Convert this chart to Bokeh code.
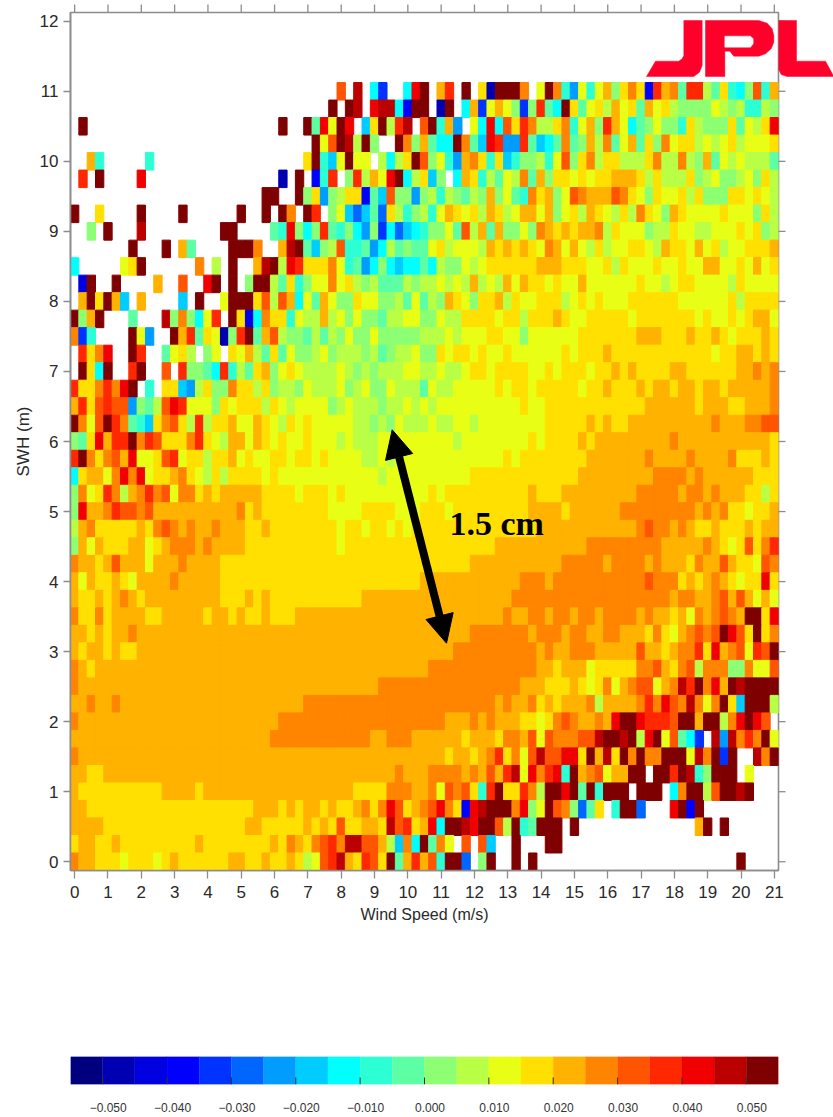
from bokeh.plotting import figure
from bokeh.layouts import column
from bokeh.models import (LinearColorMapper, ColumnDataSource, FixedTicker, LinearAxis, Range1d,
                          Arrow, NormalHead)
from bokeh.transform import transform
from bokeh.core.properties import value
from bokeh.embed import file_html
from bokeh.resources import INLINE

# one letter per colour class (A lowest ... V highest), '.' = no data
CODES = "ABCDEFGHIJKLMNOPQRSTUV"
PALETTE = ["#00007f", "#0000b2", "#0000e0", "#0000ff", "#0033ff", "#0066ff", "#009cff", "#00ccff",
           "#00ffff", "#2dffd4", "#5cffa4", "#8cff73", "#b8ff46", "#e8ff15", "#ffe000", "#ffb200",
           "#ff8400", "#ff5500", "#ff2800", "#f00000", "#bb0000", "#7f0000"]
WIND_STEP = 0.25
SWH_STEP = 0.25
WIND_TICKS = list(range(0, 22))
SWH_TICKS = list(range(0, 13))
CB_TICKS = [-0.05, -0.04, -0.03, -0.02, -0.01, 0.0, 0.01, 0.02, 0.03, 0.04, 0.05]
CB_LABELS = ["\u22120.050", "\u22120.040", "\u22120.030", "\u22120.020", "\u22120.010", "0.000",
             "0.010", "0.020", "0.030", "0.040", "0.050"]

# rows from SWH = 11 m down to 0 m, 85 wind bins each, grouped by five
ROWS = [
"..... ..... ..... ..... ..... ..... ..R.U .IE.. ITV.P S.V.O BVVVQ .NVQJ GNJNP LOQOD SPQKS SMKOJ ILRJP",
"..... ..... ..... ..... ..... ..... .V.VU .TUUI DVV.B V.IPE NPNLE LSKIV OKNOM PNOKP NOMLL LLNML MJJML",
".V... ..... ..... ..... ..... V..VK TNVT. HOVMS U.RVJ PG.NI TIROS QMMOQ JNPLS PNIKL NLLJO MLLLO KNMOT",
"..... ..... ..... ..... ..... ....V NRVUM VL..V QLPKI IVQKH TSGGS KHIKQ KLPMQ KNPKO LQNOO MNMNO MNNNO",
"..PJ. ....J ..... ..... ..... ...OV JHNVN N.MIM OVRLN JGPQO JOHJL LMJNR LOQMO OMMMO QMMQM LPKNM NMMMK",
".S.V. ...T. ..... ..... ..... B.V.D JS.LS MPNTV IMOHL .IPOJ MKNMQ KPLOO NONOO PPPOM OMMMO LMNLL MNLOM",
"..... ..... ..... ..... ...VV ..VLO GLMOO DKHRL LGLMJ MLKML PLNKJ QOPLN RQPPP RQONL ONNOM OLLLO ONONM",
"V..O. ...V. ...V. ..... V..V. VQ.VS .LNHF HKFOM JLMJN PONOM POMNP PNPLN OMPON MOMQO NLPON NNNON NNLOM",
"..L.V ...U. ..... ...VV ....K JTLIL SKJLI GLEIF HIJLL NKRMP KPLLN LQPOP OPPQM ONNNL MMONN MMNNN ONOLM",
"..... ..V.. .V.PK ....V VVQ.. PUVKH LMRJJ KGIMK LKKNO MNNNM POPOP ONQPN PNMOM NNOON MPOON PNOMN NOOOP",
"I.... .NOV. ..... Q.M.V ..PUV MTSOO OQNJK GILIH IIKIM LLNMN OOOOO OPPPO OONNO MONNN ONNON NPPNN ONPNO",
".CV.. V.... P..R. .TV.V .LVVM KOJLN NQNOM LMKKK MLMMN MNMPM NMPNP OONON NPNNN NNNON NMNOO NNNNM ONNNN",
".PVOV PH.P. ...H. V..NV VVORM RPINK PNLLO NNLLM KNKML PONLO OPMON NOOOM NONON NNOOO OOONN NNNNO MOOOO",
"VLPV. ..K.. .ULQL INS.V OCIQO OJNMM PMNLN LLKMM NNLLN MMOOO ONOOM OOOPO NNOOO OONOO OOOOO NONNO NOPPN",
"QEJ.. ..VNG ..VPS KONBL SVKPR MLLKM KMLNL LNLLL LLMMM NMNNN OONNL NNNNN NOOOO OOOPP POOOP OOPON OOOPO",
".SOQT ..VS. .KNOM .LN.O NPMKO KNLLM NLMMM LMKLM MNLLO NOONO NNONN NNNNO NOOOP OOOOO OOOOO OONOO PPOPO",
".VOIV ..SV. .R.SL LKISJ MKOPL NONMM MMNML MLMMM NNMMN MMNOO NOOOO NNONO OONOO POPOO OOPPO OOOOO PPQPQ",
"SOOQS QTV.J .OOHG MOLLQ OOMOL MMLNM MMNLM NLLNM MMKNM MNNNN NONOO NOOOO ONOOP OOOPO PPOPP OPPOP PPPPQ",
"PSORS RRGLK MRTSN NNLON OOOMO NMNNN NLMNM MMLMM NMNMN NNNNN NNNNO NNOOO OOOOO OOOOP PPPPP OPPPO OPPPQ",
"VQNRV SQKJH OQROM SMOOP NNPON MONON NNNNM MLMLN MMMNM MNNMN NNNNN NNOOO OOPOP OOPPP PPPPP PPQPP PQQRR",
"LKOTP SSVQS ROOOQ SONMP PNPON ONNON NNMNM MMNNN NNNNN NMNNN NNNNN ONOOO OPOPP PPPPP PPQPP PPPPP PPPPO",
"SVQOQ RPTNN ORSNO OMOOP NONNO ONOON ONNNN MMNMN NNNNN NNNNN NNONO OOOOO OOPPP PPPPQ PPPPQ PPPPQ OOOPO",
"IOPPN QTQTN OOPQO NMOMO OOONO NNNNN NNNNN NNMNN NNNNN NNNOO OOOOO OOOOO OPPPP PPPPP QQQQP QPPPP PPOOO",
"LQNOS QMPQS QRNQQ OPOPP PPPOO OONOO ONONN NNNNN NNNON OOOOO OOOOO POOOP PPPPP PPPQQ QQQPQ QPQPP POOMO",
"LTPPQ SRRQR PPPPP PPPPP QOPOO OOOOO ONNNN OOOON NNOOO NOOOO OOOOO PPPPO PPPPP PQQQQ QQQQQ PQPQO ONOOP",
"MPQOO OOOPO QRQPQ PPQPP POOPO OOOOO OONOO NOONO NOOOO OOOOO OOOOO OPPPP PPPPP PPPQR QQPQP OOPOO OPOPP",
"LPNPO OOPPN OPQQQ PQPPP POOOO OOOOO OONOO OOOOO OOOOO OOOOO OPPPP PPPPP PPQQQ QQQQQ QPPPP PQPON OROQS",
"QPPOP RPPPN PPPQP PPPOO OOOOO OOOOO OOOOO OOOOO OOOOO OOOPP PPPPP PPPPQ QQQQP QQQQP QPPPO QPPRP OONRQ",
"PNPOO PONPP PPQPP PPPOO OOOOO OOOOO OOOOO OOOOO OOPPP PPPPP PPPPQ QQPQQ QQQQQ QQQQR QQQOP OPQPO NOOTO",
"POOPO PQPOP PPPPP PPPOO OPOPO OOOOO OOOOO PPPPP PPPPP PPPPP PPPQQ QQQQQ QQQQQ QQQQQ QQPQQ PPQRP RPNPN",
"QOOQO PPPPO OPPPP POPPO POOPO OOPPP PPPPP PPPPP PPPPP PPPPP PPQPP QQPQQ PQQPQ QQQPQ PPOPN QPQRQ PVVOT",
"PPOPO PPQPP PPPPP PPPPP PPPPP PPPPP PPPPP PPPPP PPPPP PPPQQ QQQQQ PQQQP QQPPQ QPPPO QONPQ RQRVT ROVOQ",
"POPPO POOPP PPPPP PPPPP PPPPP PPPPP PPPPP PPPPP PPPPP PQQQQ QQQQQ QPQPP QQQPP PPPRP POPQQ SOTPQ RNSRV",
"QPOPP PPPPP PPPPP PPPPP PPPPP PPPPP PPPPP PPPPP PPPQQ QQQQQ QQQQQ QPPOP PPNOO OOOQQ RPOQR MQQQL LQNNR",
"QPPPP PPPPP PPPPP PPPPP PPPPP PPPPP PPPPP PPQQQ QQQQQ QQQQQ QQQQP PPOOO PONOQ NPQRR NPQUS VQTPV UVVVV",
"PPQPP QPPPP PPPPP PPPPP PPPPP PPPQQ QQQQQ QQQQQ QQQQQ QQQQQ QPQPP QOPOP PPQMP PPPQS QTRQU QNQVO HVVVM",
"QPPPP PPPPP PPPPP PPPPP PPPPP QQQQQ QQQQQ QQQQQ QQQQQ PPPQP QPPPO ONOQR QPPQP TVVTS SSRVV PVVMQ TVTR.",
"PPPPP PPPPP PPPPP PPPPP PPPPQ QQQQQ QQQQQ QPPQQ QPPPP PPOPP POQQP RNRQQ QRRUV VUVMT VNRKI E.UGU QSQVN",
"QPPPP PPPPP PPPPP PPPPP PPPPP PPPPP PPPPP PPPPP PPPPP OPPOP QSOQN RURRT TOVPU OVQVQ QVVVN UQVEV ..UQV",
"PPOOP PPPPP PPPPP PPPPP PPPPP PPPPP PPPPP PPPPQ PPPQQ QQPQP RPSUN TQSTJ VPQRN PPVV. VVSVU JLVVV .N...",
"POOOO OOOOO OPPPP OPPPP PPPPP PPPPP PPPPO OOOQQ QPPQN RQROJ SVOOS QMVVT VKVJV VV.VV V.IQV VMRVV UV...",
"PPOOO OOOOO OOOOO OOOOO OOPPP OPOPP OPOOP QOQTR OPQRT QODTU VVVQT LNVRQ LFKO. JVVF. ..TVD V.... .....",
"PPPPO OOOOO OOOOO OOOOO OPPOO OOOPO POROO PPOUR SOPTI VVUTV VRMVJ KVVV. V.... ..... ..... PV.V. .....",
"OPPOO POOOO OOOOO POOOO OOOOP OQPOQ RSQUU RRPMH QIVKQ N.R.R H..V. ..VV. ..... ..... ..... ..... .....",
"QPPOO ONOOO NOPOO OOOOP POOPO OPOMN RSUPO SROVK PSPRJ VVF.L V..V. V.... ..... ..... ..... ..... V....",
]

wind, swh, vals = [], [], []
for i, row in enumerate(ROWS):
    cells = row.replace(" ", "").ljust(85, ".")[:85]
    for j, c in enumerate(cells):
        if c != ".":
            wind.append(j * WIND_STEP)
            swh.append((len(ROWS) - 1 - i) * SWH_STEP)
            vals.append(-0.0525 + CODES.index(c) * 0.005)

mapper = LinearColorMapper(palette=PALETTE, low=-0.055, high=0.055)
GRAY = "#8c8c8c"
TXT = "#2a2a2a"
FONT = "Liberation Sans"

p = figure(width=833, height=926, x_range=Range1d(-0.125, 21.125), y_range=Range1d(-0.125, 12.125),
           min_border_left=70, min_border_right=55, min_border_top=12, min_border_bottom=56,
           output_backend="svg", toolbar_location=None, background_fill_color="white")
p.grid.visible = False
p.outline_line_color = GRAY
p.outline_line_width = 1.6

src = ColumnDataSource(dict(x=wind, y=swh, v=vals))
p.rect("x", "y", width=WIND_STEP, height=SWH_STEP, source=src,
       fill_color=transform("v", mapper), line_color=transform("v", mapper), line_width=1)

def style(ax, ticks, out=7):
    ax.ticker = FixedTicker(ticks=ticks)
    ax.axis_line_color = GRAY
    ax.axis_line_width = 1.6
    ax.major_tick_line_color = GRAY
    ax.major_tick_line_width = 1.3
    ax.major_tick_in = 0
    ax.major_tick_out = out
    ax.minor_tick_line_color = None
    ax.major_label_text_font = FONT
    ax.major_label_text_font_size = "17px"
    ax.major_label_text_color = TXT
    ax.axis_label_text_font = FONT
    ax.axis_label_text_font_size = "16px"
    ax.axis_label_text_font_style = "normal"
    ax.axis_label_text_color = TXT

style(p.xaxis[0], WIND_TICKS, out=8)
p.xaxis[0].axis_label = "Wind Speed (m/s)"
p.xaxis[0].major_label_standoff = 7
p.xaxis[0].axis_label_standoff = 5
style(p.yaxis[0], SWH_TICKS)
p.yaxis[0].axis_label = "SWH (m)"
p.yaxis[0].axis_label_text_font_size = "17px"
p.yaxis[0].major_label_standoff = 5
p.yaxis[0].axis_label_standoff = 4
p.yaxis[0].major_label_orientation = "horizontal"

# page pixels to data coordinates, for the overlay drawing only
SX = 708 / 21.25
SY = 858 / 12.25
def dx(px): return -0.125 + (px - 70) / SX
def dy(py): return -0.125 + (870 - py) / SY

# ticks on the top and right edges, outside the frame
p.segment(x0=WIND_TICKS, y0=[12.125] * len(WIND_TICKS), x1=WIND_TICKS, y1=[12.125 + 8 / SY] * len(WIND_TICKS),
          line_color=GRAY, line_width=1.3, level="overlay")
p.segment(x0=[21.125] * len(SWH_TICKS), y0=SWH_TICKS, x1=[21.125 + 7 / SX] * len(SWH_TICKS), y1=SWH_TICKS,
          line_color=GRAY, line_width=1.3, level="overlay")

head = dict(size=28, fill_color="black", line_color="black")
p.add_layout(Arrow(start=NormalHead(**head), end=NormalHead(**head),
                   x_start=dx(391.7), y_start=dy(429.3), x_end=dx(446), y_end=dy(642.7),
                   line_color="black", line_width=8))
p.text([dx(449)], [dy(523)], text=["1.5 cm"], text_font=value("Liberation Serif"), text_font_style="bold",
       text_font_size="34px", text_color="black", text_baseline="middle", text_align="left")

RED = "#ff002b"
def lz(pts):
    return [dx(630 + a / 3) for a, b in pts], [dy(b / 3) for a, b in pts]
J = [(160, 60), (215, 60), (215, 195), (207, 215), (190, 228), (48, 228), (75, 182), (145, 182), (155, 175), (160, 165)]
P = [(225, 60), (385, 60), (410, 68), (425, 85), (430, 105), (430, 125), (422, 145), (405, 160), (385, 167),
     (310, 167), (298, 152), (283, 152), (283, 228), (225, 228)]
H = [(283, 107), (360, 107), (368, 115), (368, 130), (360, 140), (283, 140)]
L = [(445, 60), (498, 60), (498, 182), (585, 182), (610, 228), (470, 228), (452, 222), (445, 208)]
for pts, col in [(J, RED), (P, RED), (H, "white"), (L, RED)]:
    xs, ys = lz(pts)
    p.patch(xs, ys, fill_color=col, line_color=col, line_width=0.5, level="overlay")

# colour bar
SHIFT = 5.5 / 708 * 0.11
cb = figure(width=833, height=191, x_range=Range1d(-0.055, 0.055), y_range=Range1d(0, 1),
            x_axis_location=None, y_axis_location=None,
            min_border_left=70, min_border_right=55, min_border_top=130, min_border_bottom=33,
            output_backend="svg", toolbar_location=None)
cb.grid.visible = False
cb.outline_line_color = None
cb.extra_x_ranges = {"lab": Range1d(-0.055 - SHIFT, 0.055 - SHIFT)}
lefts = [-0.055 + i * 0.005 for i in range(len(PALETTE))]
cb.quad(left=lefts, right=[a + 0.005 for a in lefts], bottom=0, top=1, fill_color=PALETTE, line_color=PALETTE, line_width=0.3)
cb.segment(x0=CB_TICKS, y0=[0] * len(CB_TICKS), x1=CB_TICKS, y1=[0.25] * len(CB_TICKS), line_color="#333333", line_width=1)
lab = LinearAxis(x_range_name="lab", ticker=FixedTicker(ticks=CB_TICKS),
                 major_label_overrides={v: s for v, s in zip(CB_TICKS, CB_LABELS)})
lab.axis_line_color = None
lab.major_tick_line_color = None
lab.minor_tick_line_color = None
lab.major_tick_in = 0
lab.major_tick_out = 0
lab.major_label_standoff = 18
lab.major_label_text_font = FONT
lab.major_label_text_font_size = "12px"
lab.major_label_text_color = "#333333"
cb.add_layout(lab, "below")

page = column(p, cb, spacing=0)
open("out.html", "w").write(file_html(page, INLINE))
